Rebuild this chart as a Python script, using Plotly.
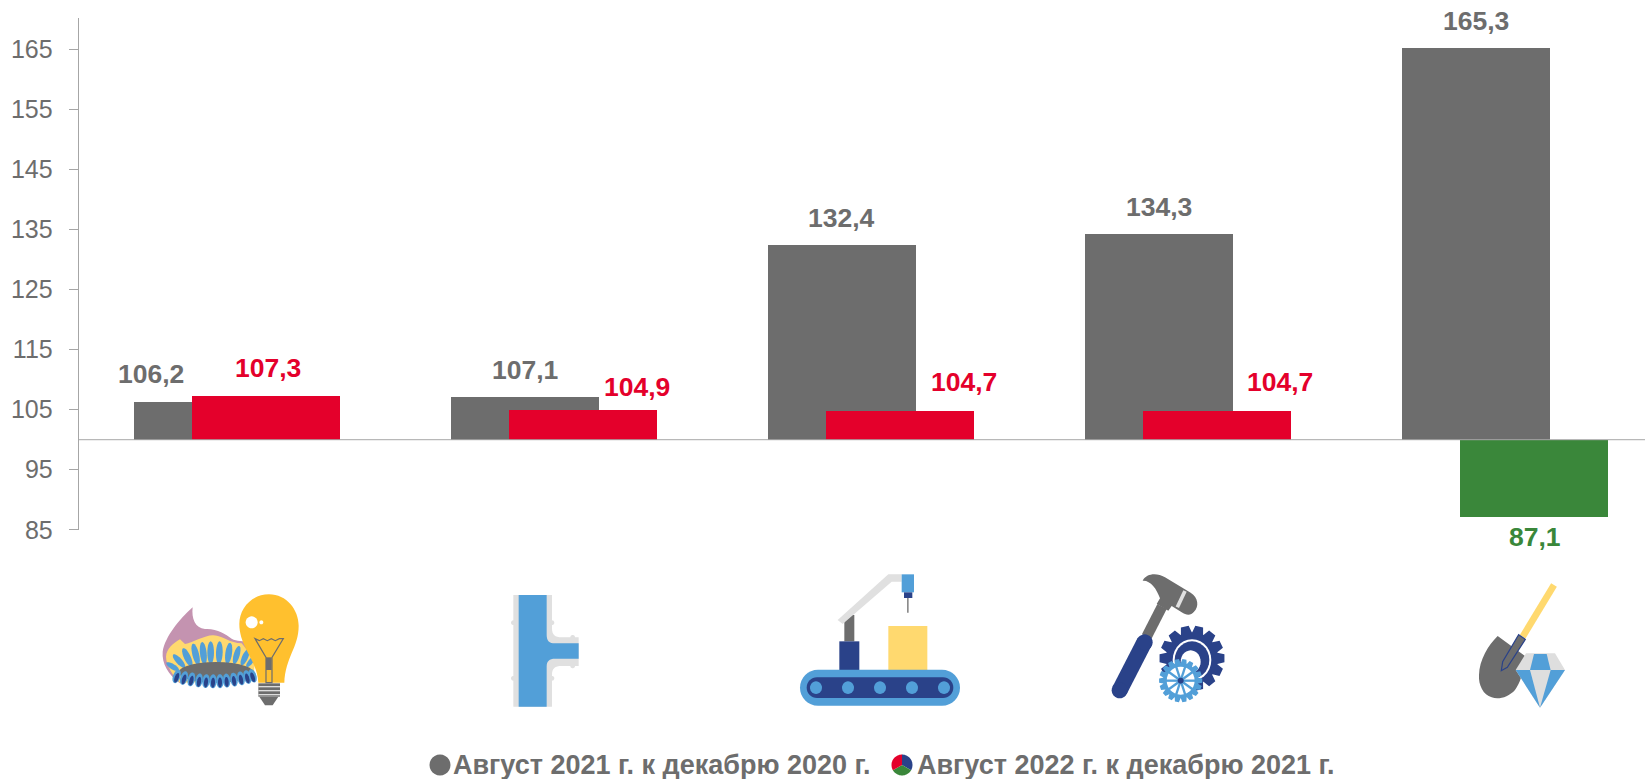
import math
import re
import plotly.graph_objects as go

W, H = 1645, 779

CATEGORIES = ["Энергия и газ", "Водоснабжение", "Обрабатывающие производства", "Машиностроение", "Добыча"]
SERIES_2021 = [106.2, 107.1, 132.4, 134.3, 165.3]
SERIES_2022 = [107.3, 104.9, 104.7, 104.7, 87.1]
LABELS_2021 = ["106,2", "107,1", "132,4", "134,3", "165,3"]
LABELS_2022 = ["107,3", "104,9", "104,7", "104,7", "87,1"]
NAME_2021 = "Август 2021 г. к декабрю 2020 г."
NAME_2022 = "Август 2022 г. к декабрю 2021 г."
Y_TICKS = [85, 95, 105, 115, 125, 135, 145, 155, 165]
BASELINE = 100

GRAY = "#6D6D6D"
RED = "#E4002B"
GREEN = "#3A873A"
AXIS = "#A6A6A6"
BLUE = "#529FD8"
DARK = "#2A4289"
YEL = "#FFD96F"
AMBER = "#FFC02E"
LIGHT = "#E0E0E0"
MAUVE = "#C493B0"
FONT = "Liberation Sans"

# plot box in page pixels
LEFT, TOP, BOTTOM = 78.7, 18, 529.8
X_RANGE = [-0.5, 4.44]
BAR_W = 0.4666
OFF_A = -0.327
OFF_B = -0.145

COLORS_2022 = [RED, RED, RED, RED, GREEN]
SHIFT_X_A = [-57, 0, 0, 0, 0]
SHIFT_X_B = [3, 55, 65, 64, 2]
SHIFT_Y_A = [28, 27, 27, 27, 27]
SHIFT_Y_B = [28, 23, 29, 29, -20]

fig = go.Figure()
fig.add_bar(x=CATEGORIES, y=[v - BASELINE for v in SERIES_2021], base=BASELINE, name=NAME_2021,
            width=BAR_W, offset=OFF_A, marker=dict(color=GRAY, line=dict(width=0)))
fig.add_bar(x=CATEGORIES, y=[v - BASELINE for v in SERIES_2022], base=BASELINE, name=NAME_2022,
            width=BAR_W, offset=OFF_B, marker=dict(color=COLORS_2022, line=dict(width=0)))

annotations = []
for i in range(5):
    annotations.append(dict(x=i + OFF_A + BAR_W / 2, y=SERIES_2021[i], xref="x", yref="y", text=f"<b>{LABELS_2021[i]}</b>",
                            showarrow=False, xshift=SHIFT_X_A[i], yshift=SHIFT_Y_A[i], yanchor="middle",
                            font=dict(family=FONT, size=26.5, color=GRAY)))
    annotations.append(dict(x=i + OFF_B + BAR_W / 2, y=SERIES_2022[i], xref="x", yref="y", text=f"<b>{LABELS_2022[i]}</b>",
                            showarrow=False, xshift=SHIFT_X_B[i], yshift=SHIFT_Y_B[i], yanchor="middle",
                            font=dict(family=FONT, size=26.5, color=COLORS_2022[i])))


# ---------- decorative pictograms, drawn in page pixels ----------
def px(x, y):
    return f"{x / W:.5f},{1 - y / H:.5f}"


def tr(path, ox, oy, s=3.0):
    out, pair = [], []
    for tok in re.findall(r"[A-Za-z]|-?\d+\.?\d*", path):
        if tok.isalpha():
            out.append(tok)
        else:
            pair.append(float(tok))
            if len(pair) == 2:
                out.append(px(ox + pair[0] / s, oy + pair[1] / s))
                pair = []
    return " ".join(out)


shapes = [dict(type="line", xref="paper", yref="y", x0=LEFT / W, x1=1, y0=BASELINE, y1=BASELINE,
               line=dict(color=AXIS, width=1), layer="above")]


def add(path, ox, oy, fill, line=None, lw=1):
    shapes.append(dict(type="path", xref="paper", yref="paper", path=tr(path, ox, oy), fillcolor=fill,
                       line=dict(color=line or "rgba(0,0,0,0)", width=lw if line else 0), layer="above"))


def ell(cx, cy, rx, ry, rot=0, n=28):
    a = math.radians(rot)
    pts = []
    for k in range(n):
        t = 2 * math.pi * k / n
        x, y = rx * math.cos(t), ry * math.sin(t)
        pts.append((cx + x * math.cos(a) - y * math.sin(a), cy + x * math.sin(a) + y * math.cos(a)))
    return "M " + " L ".join(f"{p[0]:.1f} {p[1]:.1f}" for p in pts) + " Z"


def rect(x0, y0, x1, y1):
    return f"M {x0} {y0} L {x1} {y0} L {x1} {y1} L {x0} {y1} Z"


def gear(cx, cy, r_out, r_in, teeth):
    pts = []
    step = 2 * math.pi / teeth
    for k in range(teeth):
        t = k * step
        for dt, r in [(-0.30, r_in), (-0.17, r_out), (0.17, r_out), (0.30, r_in)]:
            pts.append((cx + r * math.cos(t + dt * step * 1.6), cy + r * math.sin(t + dt * step * 1.6)))
    return "M " + " L ".join(f"{p[0]:.1f} {p[1]:.1f}" for p in pts) + " Z"


def thick(x0, y0, x1, y1, w):
    d = math.hypot(x1 - x0, y1 - y0)
    nx, ny = -(y1 - y0) / d * w / 2, (x1 - x0) / d * w / 2
    return (f"M {x0 + nx:.1f} {y0 + ny:.1f} L {x1 + nx:.1f} {y1 + ny:.1f} "
            f"L {x1 - nx:.1f} {y1 - ny:.1f} L {x0 - nx:.1f} {y0 - ny:.1f} Z")


# gas burner and bulb
O1 = (130, 560)
add("M 188 142 C 184 175 195 205 225 207 C 262 205 285 222 305 236 C 320 245 340 240 360 250 L 370 330 L 150 370 "
    "C 115 345 95 310 98 275 C 105 230 150 175 188 142 Z", *O1, MAUVE)
add("M 150 238 L 165 252 C 190 248 225 225 250 226 C 280 228 300 250 335 250 L 375 300 L 370 362 L 150 368 "
    "C 130 350 108 315 108 290 C 110 265 130 250 150 238 Z", *O1, YEL)
for (cx, cy, rx, ry, rot) in [(128, 320, 8, 22, -58), (147, 303, 9, 26, -42), (172, 292, 10, 30, -25),
                              (197, 283, 10, 33, -14), (220, 280, 10, 34, -6), (242, 278, 10, 34, 0),
                              (268, 278, 10, 34, 2), (296, 280, 10, 32, 8), (320, 285, 9, 28, 16),
                              (345, 292, 9, 26, 24), (362, 305, 7, 20, 38)]:
    add(ell(cx, cy, rx, ry, rot), *O1, BLUE)
add(ell(258, 337, 112, 31), *O1, GRAY)
for k, cx in enumerate([140, 162, 184, 207, 228, 249, 270, 290, 312, 333, 352, 368]):
    cy = 346 + 18 * math.sin(math.pi * (cx - 125) / 250)
    add(ell(cx, cy, 11, 21, 20 - k * 3.5), *O1, BLUE)
    add(ell(cx, cy + 4, 6, 15, 20 - k * 3.5), *O1, DARK)
add("M 417 103 C 470 103 506 150 506 197 C 506 262 466 292 463 368 L 385 368 C 382 300 328 262 328 192 "
    "C 328 145 365 103 417 103 Z", *O1, AMBER)
add(ell(365, 187, 18, 18), *O1, "#FFFFFF")
add(ell(394, 187, 6, 6), *O1, "#FFFFFF")
add("M 375 236 L 388 242 L 400 236 L 412 242 L 424 236 L 436 242 L 448 236 L 460 236 L 426 292 L 426 368 "
    "L 408 368 L 408 292 Z", *O1, "rgba(0,0,0,0)", GRAY, 1.2)
add(rect(408, 292, 425, 330), *O1, GRAY)
add(rect(385, 370, 450, 410), *O1, GRAY)
for y in (378, 390, 402):
    add(rect(385, y, 450, y + 4), *O1, "#DDDDDD")
add("M 388 410 L 445 410 L 428 436 L 405 436 Z", *O1, GRAY)

# pipe tee
add("M 1150 105 L 1266 105 L 1266 205 C 1266 225 1275 232 1295 232 L 1346 232 L 1346 318 L 1295 318 "
    "C 1275 318 1266 325 1266 345 L 1266 440 L 1150 440 Z", *O1, LIGHT)
for cx, cy in [(1150, 188), (1266, 188), (1150, 355), (1266, 355), (1328, 232), (1328, 318)]:
    add(ell(cx, cy, 7, 7), *O1, LIGHT)
add("M 1166 105 L 1250 105 L 1250 225 C 1250 243 1258 250 1275 250 L 1346 250 L 1346 296 L 1275 296 "
    "C 1258 296 1250 303 1250 320 L 1250 440 L 1166 440 Z", *O1, BLUE)

# conveyor robot
O3 = (770, 560)
add(rect(223, 165, 253, 244), *O3, GRAY)
add("M 203 180 L 355 43 L 395 43 L 395 65 L 365 65 L 218 192 Z", *O3, LIGHT)
add(rect(395, 43, 432, 97), *O3, BLUE)
add(rect(402, 97, 427, 114), *O3, DARK)
add(rect(411, 114, 416, 158), *O3, "#8C8C8C")
add(rect(208, 244, 268, 330), *O3, DARK)
add(rect(355, 198, 472, 330), *O3, YEL)
add("M 144 329 L 516 329 C 546 329 570 353 570 383 C 570 413 546 437 516 437 L 144 437 "
    "C 114 437 90 413 90 383 C 90 353 114 329 144 329 Z", *O3, BLUE)
add("M 141 352 L 519 352 C 536 352 550 366 550 383 C 550 400 536 414 519 414 L 141 414 "
    "C 124 414 110 400 110 383 C 110 366 124 352 141 352 Z", *O3, DARK)
for cx in (138, 234, 330, 426, 522):
    add(ell(cx, 383, 18, 19), *O3, BLUE)

# hammer and gears
add(thick(1176, 140, 1130, 230, 32), *O3, GRAY)
add("M 1118 62 C 1130 40 1160 38 1185 52 L 1262 98 C 1285 112 1288 140 1272 155 C 1262 168 1248 165 1235 157 "
    "L 1205 138 L 1195 152 L 1160 132 L 1170 115 C 1160 85 1140 60 1118 62 Z", *O3, GRAY)
add(thick(1245, 93, 1222, 142, 11), *O3, LIGHT)
add(thick(1124, 245, 1049, 391, 48), *O3, DARK)
add(ell(1124, 247, 24, 24), *O3, DARK)
add(ell(1049, 391, 24, 24), *O3, DARK)
add(gear(1266, 295, 98, 78, 14), *O3, DARK)
add(ell(1266, 300, 58, 62), *O3, "#FFFFFF")
add(ell(1266, 300, 52, 56), *O3, DARK)
add(ell(1262, 305, 30, 34), *O3, "#FFFFFF")
add(gear(1232, 362, 65, 53, 18), *O3, BLUE)
add(ell(1232, 362, 42, 42), *O3, "#FFFFFF")
for a in range(0, 180, 36):
    c, s = math.cos(math.radians(a)), math.sin(math.radians(a))
    add(thick(1232 - 44 * c, 362 - 44 * s, 1232 + 44 * c, 362 + 44 * s, 7), *O3, BLUE)
add(ell(1232, 362, 9, 9), *O3, DARK)

# shovel and diamond
O5 = (1420, 560)
add(thick(402, 75, 308, 230, 20), *O5, YEL)
add("M 233 228 L 315 288 C 310 340 300 370 285 390 C 265 412 235 420 215 412 C 190 405 175 375 177 345 "
    "C 178 300 205 255 233 228 Z", *O5, GRAY)
add("M 296 224 L 316 238 L 262 322 L 244 332 L 248 305 Z", *O5, GRAY, DARK, 1.2)
add("M 318 280 L 405 280 L 435 330 L 360 443 L 287 330 Z", *O5, "#DEDEDE")
add("M 342 282 L 380 282 L 392 330 L 330 330 Z", *O5, BLUE)
add("M 287 330 L 330 330 L 360 443 Z", *O5, BLUE)
add("M 392 330 L 435 330 L 360 443 Z", *O5, BLUE)


# legend swatches
def sector(cx, cy, r, a0, a1):
    pts = [(cx, cy)]
    for k in range(25):
        a = math.radians(a0 + (a1 - a0) * k / 24)
        pts.append((cx + r * math.cos(a), cy + r * math.sin(a)))
    return "M " + " L ".join(px(*p).replace(",", " ") for p in pts) + " Z"


def raw(path, fill):
    shapes.append(dict(type="path", xref="paper", yref="paper",
                       path=re.sub(r"(\d\.\d+) (\d\.\d+)", r"\1,\2", path), fillcolor=fill,
                       line=dict(width=0), layer="above"))


raw(sector(440, 765, 10.5, 0, 360), GRAY)
raw(sector(902, 765, 10.5, -90, 30), DARK)
raw(sector(902, 765, 10.5, 30, 150), GREEN)
raw(sector(902, 765, 10.5, 150, 270), RED)

for name, x0 in [(NAME_2021, 451), (NAME_2022, 915)]:
    annotations.append(dict(x=x0 / W, y=1 - 765 / H, xref="paper", yref="paper", text=f"<b>{name}</b>",
                            showarrow=False, xanchor="left", yanchor="middle", xshift=0,
                            font=dict(family=FONT, size=27, color=GRAY)))

fig.update_layout(
    width=W, height=H, autosize=False,
    margin=dict(l=0, r=0, t=0, b=0, pad=0, autoexpand=False),
    paper_bgcolor="white", plot_bgcolor="white",
    barmode="overlay", bargap=0, showlegend=False,
    font=dict(family=FONT, color=GRAY),
    shapes=shapes, annotations=annotations,
    xaxis=dict(domain=[LEFT / W, 1], type="category", categoryorder="array", categoryarray=CATEGORIES,
               range=X_RANGE, showticklabels=False, ticks="", showgrid=False, showline=False, zeroline=False),
    yaxis=dict(domain=[1 - BOTTOM / H, 1 - TOP / H], range=[85, 85 + (BOTTOM - TOP) / 6.006],
               tickvals=Y_TICKS, ticktext=[str(t) for t in Y_TICKS], ticks="outside", ticklen=9, tickwidth=1,
               ticklabelstandoff=11,
               tickcolor=AXIS, showline=True, linecolor=AXIS, linewidth=1, showgrid=False, zeroline=False,
               tickfont=dict(family=FONT, size=25, color=GRAY)),
)

fig.write_html("out.html", config=dict(displayModeBar=False, responsive=False),
               post_script="document.body.style.margin='0';document.documentElement.style.overflow='hidden';")
